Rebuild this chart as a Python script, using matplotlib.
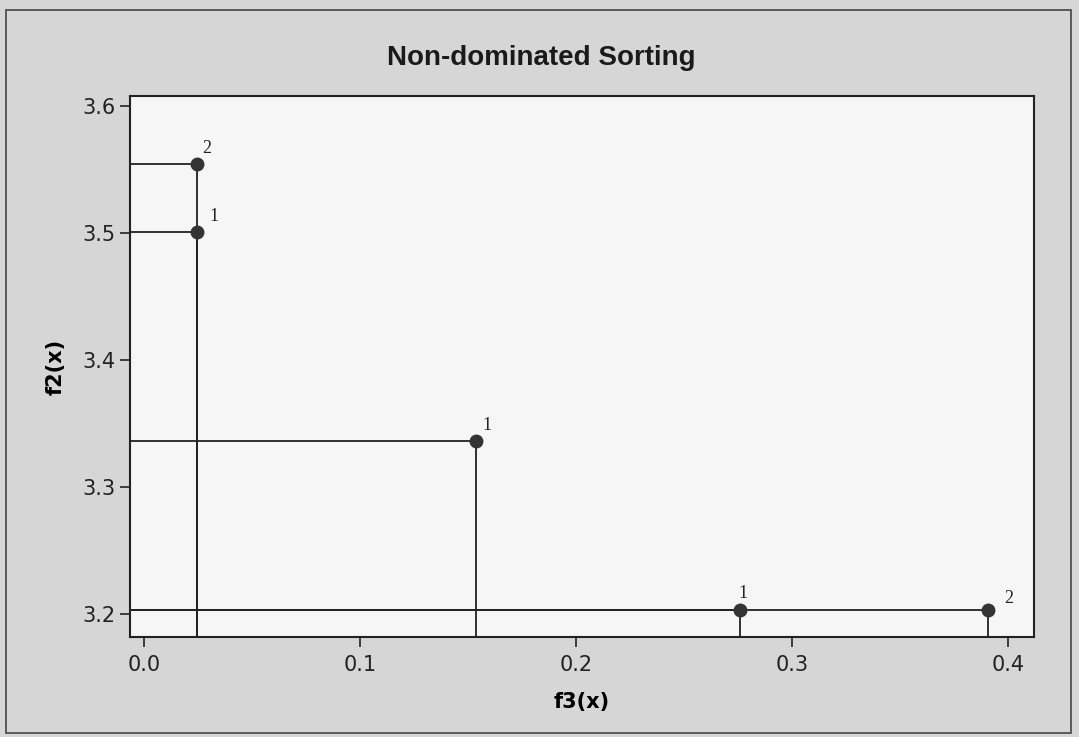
import numpy as np
import matplotlib.pyplot as plt
from matplotlib.patches import Rectangle

# data
f3 = [0.0245, 0.0245, 0.1535, 0.2760, 0.3905]
f2 = [3.5545, 3.5010, 3.3365, 3.2030, 3.2035]
rank = ['2', '1', '1', '1', '2']
x_ticks = [0.0, 0.1, 0.2, 0.3, 0.4]
y_ticks = [3.2, 3.3, 3.4, 3.5, 3.6]

# label offsets (points) for the rank numbers
label_offsets = [(4, 8), (9, 8), (5, 8), (-1, 9), (12, 5)]

xmin, xmax = -0.0065, 0.412
ymin, ymax = 3.182, 3.608

fig = plt.figure(figsize=(10.79, 7.37), dpi=100, facecolor='#d6d6d6')
ax = fig.add_axes([0.1205, 0.1357, 0.8378, 0.734])
ax.set_facecolor('#f6f6f6')

# border around the whole graph
fig.patches.append(Rectangle((0.006, 0.005), 0.987, 0.981, transform=fig.transFigure,
                             fill=False, edgecolor='#444444', linewidth=1.2))

line_kw = dict(color='#222222', linewidth=1.3, zorder=2)
for x, y in zip(f3, f2):
    ax.plot([xmin, x], [y, y], **line_kw)
    ax.plot([x, x], [y, ymin], **line_kw)

ax.plot(f3, f2, 'o', color='#333333', markersize=9, zorder=3)

for x, y, r, off in zip(f3, f2, rank, label_offsets):
    ax.annotate(r, (x, y), xytext=off, textcoords='offset points',
                fontfamily='Liberation Serif', fontsize=13, color='#222222')

ax.set_xlim(xmin, xmax)
ax.set_ylim(ymin, ymax)
ax.set_xticks(x_ticks)
ax.set_yticks(y_ticks)
ax.set_xticklabels([f'{v:.1f}' for v in x_ticks])
ax.set_yticklabels([f'{v:.1f}' for v in y_ticks])
ax.tick_params(direction='out', length=7, width=1.2, labelsize=15, colors='#222222')
ax.tick_params(axis='x', pad=6)
for s in ax.spines.values():
    s.set_linewidth(1.5)
    s.set_color('#222222')

ax.set_xlabel('f3(x)', fontsize=15, fontweight='bold', labelpad=12)
ax.set_ylabel('f2(x)', fontsize=15, fontweight='bold', labelpad=12)
fig.text(541 / 1079, 1 - 58 / 737, 'Non-dominated Sorting', ha='center', va='center',
         fontsize=20, fontweight='bold', color='#1a1a1a',
         fontfamily='Liberation Sans')

fig.savefig('out.png', dpi=100, facecolor=fig.get_facecolor())
